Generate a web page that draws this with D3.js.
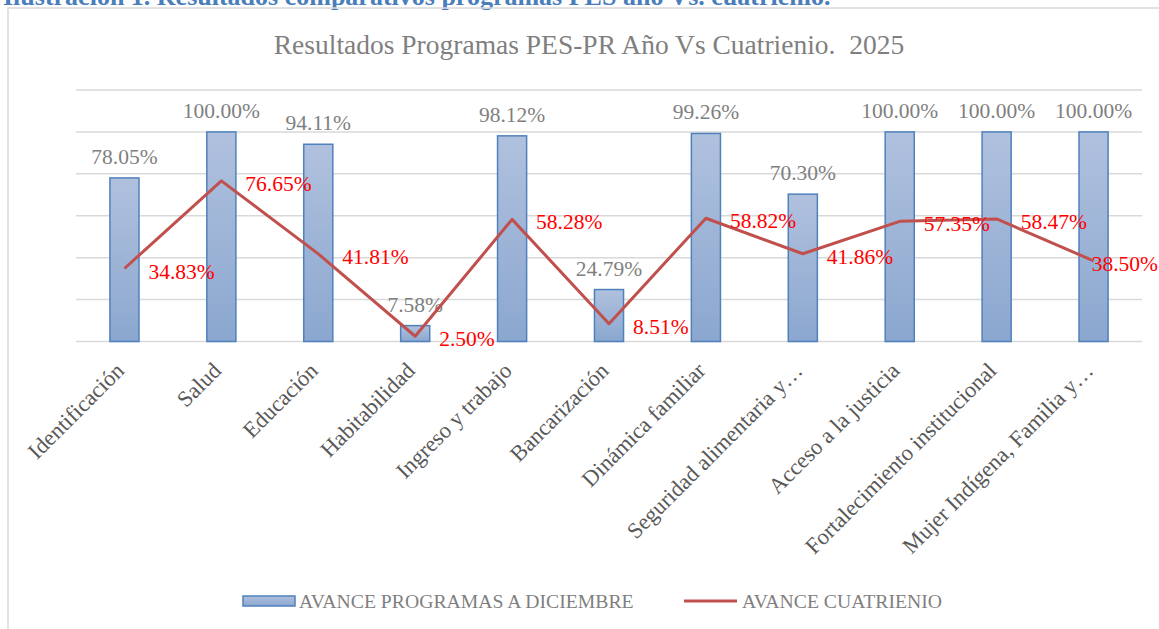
<!DOCTYPE html>
<html><head><meta charset="utf-8">
<script src="https://cdn.jsdelivr.net/npm/d3@7"></script>
<style>
html,body{margin:0;padding:0;background:#fff;}
svg{display:block;}
text{font-family:"Liberation Serif","Times New Roman",serif;}
</style></head>
<body>
<svg id="c" width="1159" height="629"></svg>
<script>
const categories = ["Identificación","Salud","Educación","Habitabilidad","Ingreso y trabajo","Bancarización","Dinámica familiar","Seguridad alimentaria y…","Acceso a la justicia","Fortalecimiento institucional","Mujer Indígena, Familia y…"];
const avanceProgramas = [78.05,100.00,94.11,7.58,98.12,24.79,99.26,70.30,100.00,100.00,100.00];
const avanceCuatrienio = [34.83,76.65,41.81,2.50,58.28,8.51,58.82,41.86,57.35,58.47,38.50];
const yTicks = [0,20,40,60,80,100,120];
const seriesNames = ["AVANCE PROGRAMAS A DICIEMBRE","AVANCE CUATRIENIO"];
const titleText = "Resultados Programas PES-PR Año Vs Cuatrienio.  2025";
const captionText = "Ilustración 1. Resultados comparativos programas PES año Vs. cuatrienio.";

const W = 1159;
const svg = d3.select("#c");
const fmt = v => v.toFixed(2) + "%";

// caption (cut off at top)
svg.append("text").attr("x",3).attr("y",5)
  .attr("font-size",26).attr("font-weight","bold").attr("fill","#4a7ebb")
  .text(captionText);

// chart border
svg.append("path").attr("d","M8,629 L8,8 L1200,8")
  .attr("fill","none").attr("stroke","#d9d9d9").attr("stroke-width",1.5);

// title
svg.append("text").attr("x",589).attr("y",54).attr("text-anchor","middle")
  .attr("font-size",27.5).attr("fill","#7f7f7f").style("white-space","pre").text(titleText);

const x = d3.scaleBand().domain(categories).range([76,1142]).paddingInner(0.7).paddingOuter(0.35);
const y = d3.scaleLinear().domain([0,120]).range([341.5,90]);

// gridlines
svg.append("g").selectAll("line").data(yTicks).join("line")
  .attr("x1",76).attr("x2",1142).attr("y1",d=>y(d)).attr("y2",d=>y(d))
  .attr("stroke","#d9d9d9").attr("stroke-width",1.5);

// gradient
const defs = svg.append("defs");
const g = defs.append("linearGradient").attr("id","barg").attr("x1",0).attr("y1",0).attr("x2",0).attr("y2",1);
g.append("stop").attr("offset","0%").attr("stop-color","#b0c1de");
g.append("stop").attr("offset","100%").attr("stop-color","#8ba7cf");

// bars
svg.append("g").selectAll("rect").data(avanceProgramas).join("rect")
  .attr("x",(d,i)=>x(categories[i])).attr("width",x.bandwidth())
  .attr("y",d=>y(d)).attr("height",d=>y(0)-y(d))
  .attr("fill","url(#barg)").attr("stroke","#4f81bd").attr("stroke-width",1.5);

// bar labels
svg.append("g").selectAll("text").data(avanceProgramas).join("text")
  .attr("x",(d,i)=>x(categories[i])+x.bandwidth()/2).attr("y",d=>y(d)-14)
  .attr("text-anchor","middle").attr("font-size",21.5).attr("fill","#7f7f7f")
  .text(fmt);

// line
const cx = i => x(categories[i]) + x.bandwidth()/2;
const line = d3.line().x((d,i)=>cx(i)).y(d=>y(d));
svg.append("path").datum(avanceCuatrienio).attr("d",line)
  .attr("fill","none").attr("stroke","#c0504d").attr("stroke-width",3).attr("stroke-linejoin","round");

// line labels (kept inside the chart's right edge, as the original does)
svg.append("g").selectAll("text").data(avanceCuatrienio).join("text")
  .attr("y",d=>y(d)+10)
  .attr("font-size",21.5).attr("fill","#ff0000").text(fmt)
  .each(function(d,i){
    const w = this.getComputedTextLength();
    d3.select(this).attr("x", Math.min(cx(i)+24, W - w - 1));
  });

// x axis labels
svg.append("g").selectAll("text").data(categories).join("text")
  .attr("transform",(d)=>`translate(${x(d)+x.bandwidth()/2+1},${372}) rotate(-45)`)
  .attr("text-anchor","end").attr("font-size",22.5).attr("fill","#595959").text(d=>d);

// legend
const lg = svg.append("g");
lg.append("rect").attr("x",243).attr("y",596).attr("width",52).attr("height",10)
  .attr("fill","url(#barg)").attr("stroke","#4f81bd").attr("stroke-width",1.5);
lg.append("text").attr("x",299).attr("y",608).attr("font-size",19.7).attr("fill","#7f7f7f").text(seriesNames[0]);
lg.append("line").attr("x1",684).attr("x2",737).attr("y1",601).attr("y2",601)
  .attr("stroke","#c0504d").attr("stroke-width",3);
lg.append("text").attr("x",742).attr("y",608).attr("font-size",19.7).attr("fill","#7f7f7f").text(seriesNames[1]);
</script>
</body></html>
